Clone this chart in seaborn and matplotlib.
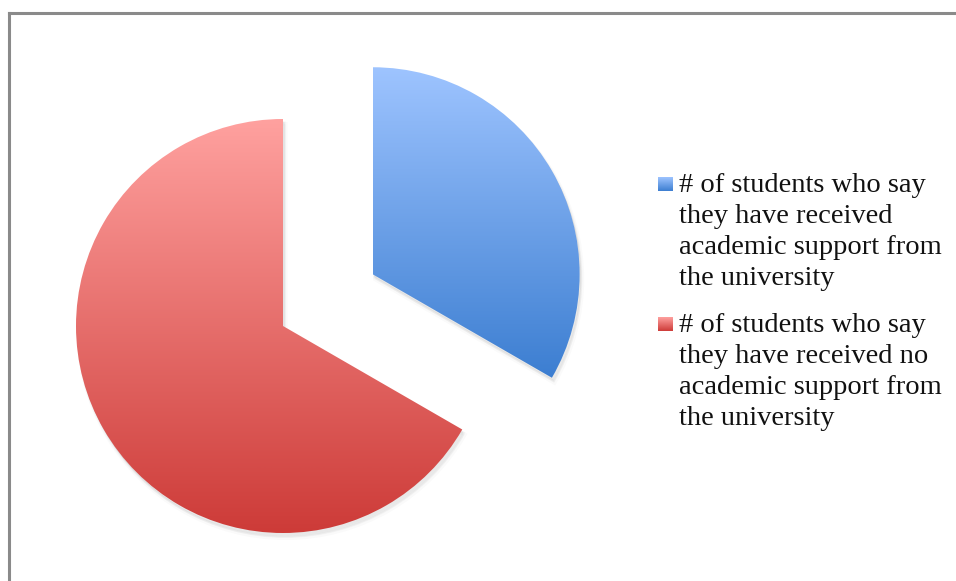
import numpy as np
import matplotlib
matplotlib.use("Agg")
import matplotlib.pyplot as plt
import seaborn as sns
from matplotlib.patches import Wedge
from matplotlib.lines import Line2D

# Survey answers (share of students)
labels = [
    "# of students who say\nthey have received\nacademic support from\nthe university",
    "# of students who say\nthey have received no\nacademic support from\nthe university",
]
shares = [1, 2]

# Vertical gradient colours for each slice (top -> bottom)
light_colors = ["#9EC4FF", "#FFA19F"]
dark_colors = ["#3C7ED1", "#CD3B38"]

sns.set_theme(style="white")
plt.rcParams["font.family"] = ["Liberation Serif", "DejaVu Serif"]

W, H = 956, 581
fig = plt.figure(figsize=(W / 100, H / 100), dpi=100)
ax = fig.add_axes([0, 0, 1, 1])

R = 207
cx, cy = 283, H - 326
wedges, _ = ax.pie(
    shares,
    startangle=90,
    counterclock=False,
    radius=R,
    center=(cx, cy),
    explode=[0.5 * R, 0],
    frame=True,
    wedgeprops=dict(linewidth=0),
)

cmaps = [sns.blend_palette([d, l], n_colors=256, as_cmap=True)
         for d, l in zip(dark_colors, light_colors)]
grad = np.linspace(1, 0, 256)[:, None]

for w, cmap in zip(wedges, cmaps):
    (x0, y0), (x1, y1) = w.get_path().get_extents().get_points()
    # soft drop shadow
    for off, a, lw in [(5, 0.02, 3), (3.5, 0.03, 1.5), (2.5, 0.04, 0)]:
        sh = Wedge((w.center[0] + off * 0.5, w.center[1] - off), w.r,
                   w.theta1, w.theta2, facecolor="black", edgecolor="black",
                   alpha=a, linewidth=lw, zorder=0.5)
        ax.add_patch(sh)
    w.set_facecolor("none")
    w.set_zorder(2)
    img = ax.imshow(grad, cmap=cmap, extent=[x0, x1, y0, y1], origin="upper",
                    aspect="auto", interpolation="bicubic", zorder=1.5, vmin=0, vmax=1)
    img.set_clip_path(w)

# Legend drawn line by line
text_x = 679
first_baselines = [192, 332]
line_step = 31
for lab, cmap, b in zip(labels, cmaps, first_baselines):
    yb = H - b
    ax.imshow(grad, cmap=cmap, extent=[658, 673, yb + 1, yb + 15], origin="upper",
              aspect="auto", interpolation="bicubic", zorder=2, vmin=0, vmax=1)
    for i, line in enumerate(lab.split("\n")):
        ax.text(text_x, yb - i * line_step, line, fontsize=20.5, color="#111111",
                ha="left", va="baseline", zorder=3)

# Chart border
border = dict(color="#8a8a8a", linewidth=2.2, solid_capstyle="projecting", zorder=4)
ax.add_line(Line2D([9.5, 9.5], [0, H - 12.5], **border))
ax.add_line(Line2D([9.5, W + 5], [H - 12.5, H - 12.5], **border))

ax.set_xlim(0, W)
ax.set_ylim(0, H)
ax.set_aspect("auto")
ax.axis("off")

fig.savefig("out.png", dpi=100, facecolor="white")
